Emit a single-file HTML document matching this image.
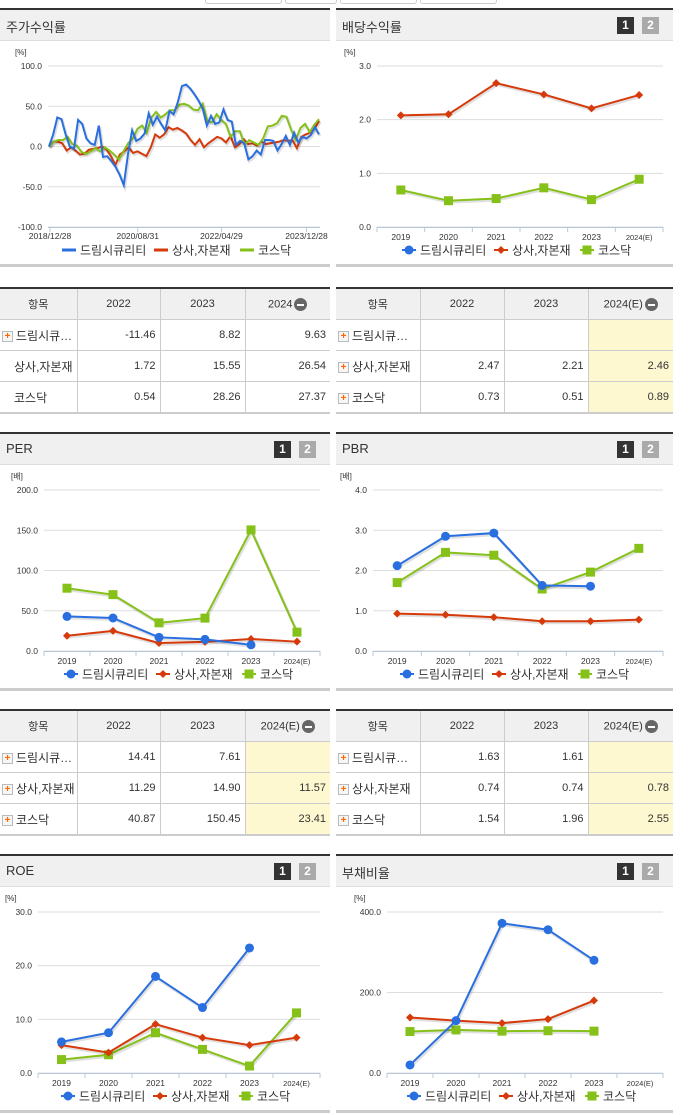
<!DOCTYPE html>
<html><head><meta charset="utf-8">
<style>
body{margin:0;width:691px;height:1115px;background:#fff;position:relative;overflow:hidden;font-family:"Liberation Sans","Noto Sans CJK KR",sans-serif;}
.abs{position:absolute}
.panel{position:absolute;border-top:2px solid #333;}
.hdr{position:absolute;left:0;right:0;top:0;height:30px;background:#f0f0f0;border-bottom:1px solid #ddd;}
.hdr span{position:absolute;left:6px;top:7px;font-size:13px;color:#333;}
.b1,.b2{position:absolute;top:7px;width:17px;height:17px;color:#fff;font-size:12px;font-weight:bold;text-align:center;line-height:17px;}
.b1{background:#333}.b2{background:#aaa}
.foot{position:absolute;left:0;right:0;height:3px;background:#ccc}
table{position:absolute;border-collapse:collapse;font-size:11px;color:#333;border-top:2px solid #333;border-bottom:2px solid #ccc;table-layout:fixed}
td,th{border:1px solid #ccc;height:30px;padding:0 4px;}
th{background:#f0f0f0;font-weight:normal;font-size:11px}
td{text-align:right}
td.n{text-align:left;font-size:12px;padding-left:2px;white-space:nowrap;overflow:hidden}
td.y{background:#fdf8d0}
tr td:first-child,tr th:first-child{border-left:none}
tr td:last-child,tr th:last-child{border-right:none}
.pl{display:inline-block;width:9px;height:9px;border:1px solid #bbb;background:#f6f6f6;color:#f60;font-size:10px;line-height:9px;text-align:center;font-weight:bold;margin-right:3px;vertical-align:middle}
.mi{display:inline-block;width:13px;height:13px;border-radius:50%;background:#666;vertical-align:middle;position:relative;margin-left:2px}
.mi:after{content:"";position:absolute;left:3px;top:6px;width:7px;height:2px;background:#fff}
</style></head><body>
<div class="abs" style="left:205px;top:-6px;width:75px;height:8px;border:1px solid #ccc;border-radius:3px"></div>
<div class="abs" style="left:285px;top:-6px;width:50px;height:8px;border:1px solid #ccc;border-radius:3px"></div>
<div class="abs" style="left:340px;top:-6px;width:75px;height:8px;border:1px solid #ccc;border-radius:3px"></div>
<div class="abs" style="left:420px;top:-6px;width:75px;height:8px;border:1px solid #ccc;border-radius:3px"></div>

<div id="root"></div>

<table style="left:0;top:287px;width:330px">
<colgroup><col style="width:77px"><col style="width:83px"><col style="width:85px"><col style="width:85px"></colgroup>
<tr><th>항목</th><th>2022</th><th>2023</th><th>2024<span class="mi"></span></th></tr>
<tr><td class="n"><span class="pl">+</span>드림시큐…</td><td>-11.46</td><td>8.82</td><td>9.63</td></tr>
<tr><td class="n" style="padding-left:14px">상사,자본재</td><td>1.72</td><td>15.55</td><td>26.54</td></tr>
<tr><td class="n" style="padding-left:14px">코스닥</td><td>0.54</td><td>28.26</td><td>27.37</td></tr>
</table>
<table style="left:336px;top:287px;width:337px">
<colgroup><col style="width:84px"><col style="width:84px"><col style="width:84px"><col style="width:85px"></colgroup>
<tr><th>항목</th><th>2022</th><th>2023</th><th>2024(E)<span class="mi"></span></th></tr>
<tr><td class="n"><span class="pl">+</span>드림시큐…</td><td></td><td></td><td class="y"></td></tr>
<tr><td class="n"><span class="pl">+</span>상사,자본재</td><td>2.47</td><td>2.21</td><td class="y">2.46</td></tr>
<tr><td class="n"><span class="pl">+</span>코스닥</td><td>0.73</td><td>0.51</td><td class="y">0.89</td></tr>
</table>
<table style="left:0;top:709px;width:330px">
<colgroup><col style="width:77px"><col style="width:83px"><col style="width:85px"><col style="width:85px"></colgroup>
<tr><th>항목</th><th>2022</th><th>2023</th><th>2024(E)<span class="mi"></span></th></tr>
<tr><td class="n"><span class="pl">+</span>드림시큐…</td><td>14.41</td><td>7.61</td><td class="y"></td></tr>
<tr><td class="n"><span class="pl">+</span>상사,자본재</td><td>11.29</td><td>14.90</td><td class="y">11.57</td></tr>
<tr><td class="n"><span class="pl">+</span>코스닥</td><td>40.87</td><td>150.45</td><td class="y">23.41</td></tr>
</table>
<table style="left:336px;top:709px;width:337px">
<colgroup><col style="width:84px"><col style="width:84px"><col style="width:84px"><col style="width:85px"></colgroup>
<tr><th>항목</th><th>2022</th><th>2023</th><th>2024(E)<span class="mi"></span></th></tr>
<tr><td class="n"><span class="pl">+</span>드림시큐…</td><td>1.63</td><td>1.61</td><td class="y"></td></tr>
<tr><td class="n"><span class="pl">+</span>상사,자본재</td><td>0.74</td><td>0.74</td><td class="y">0.78</td></tr>
<tr><td class="n"><span class="pl">+</span>코스닥</td><td>1.54</td><td>1.96</td><td class="y">2.55</td></tr>
</table>

<script>
const years=["2019","2020","2021","2022","2023","2024(E)"];
const stockDates=["2018/12/28","2020/08/31","2022/04/29","2023/12/28"];
const stockDream=[0,15,36,34,15,0,-3,33,28,10,4,2,26,-13,-12,-18,-25,-35,-48,-10,20,7,10,16,41,27,37,28,20,44,40,55,75,77,72,65,57,47,26,38,28,30,46,33,31,2,7,4,-16,-12,-5,-10,8,8,7,-5,3,13,2,17,5,12,10,14,24,15];
const stockSangsa=[0,6,6,4,-5,-1,-5,-10,-9,-4,-3,-2,0,-4,-12,-23,-10,-6,-1,-8,-6,-9,-12,-1,15,11,15,24,21,23,20,16,8,2,9,-1,4,8,12,10,5,13,-1,3,9,3,4,1,6,3,4,5,6,8,7,8,-2,12,15,17,22,32];
const stockKosdaq=[0,6,8,8,12,3,1,-7,-9,-6,-2,-6,-1,-5,-10,-16,-6,4,10,22,26,17,36,43,36,40,45,45,52,53,51,46,45,53,32,30,40,33,28,12,19,19,2,8,5,2,10,25,26,29,38,37,21,8,23,28,18,27,34];
const divDream=[null,null,null,null,null,null];
const divSangsa=[2.08,2.1,2.68,2.47,2.21,2.46];
const divKosdaq=[0.69,0.49,0.53,0.73,0.51,0.89];
const perDream=[43,41,17,14.41,7.61,null];
const perSangsa=[19,25,10,11.29,14.9,11.57];
const perKosdaq=[78,70,35,40.87,150.45,23.41];
const pbrDream=[2.12,2.85,2.93,1.63,1.61,null];
const pbrSangsa=[0.93,0.9,0.84,0.74,0.74,0.78];
const pbrKosdaq=[1.7,2.45,2.38,1.54,1.96,2.55];
const roeDream=[5.8,7.5,18,12.2,23.3,null];
const roeSangsa=[5.2,3.8,9.1,6.6,5.2,6.6];
const roeKosdaq=[2.5,3.4,7.5,4.4,1.3,11.2];
const debtDream=[20,130,372,356,280,null];
const debtSangsa=[138,130,124,134,180,null];
const debtKosdaq=[103,107,104,105,104,null];

const C={b:"#2a6fe0",r:"#d63a0a",g:"#86c11a"};
const NS="http://www.w3.org/2000/svg";
const root=document.getElementById('root');
const Y_TOP=25,Y_BOT=186;
function el(tag,attrs,parent){const e=document.createElementNS(NS,tag);for(const k in attrs)e.setAttribute(k,attrs[k]);parent.appendChild(e);return e;}

function panel(name,title,x,top,w,btns){
  const p=document.createElement('div');p.className='panel';
  
  
  p.style.left=x+'px';p.style.top=top+'px';p.style.width=w+'px';p.style.height='256px';
  const h=document.createElement('div');h.className='hdr';
  
  
  h.innerHTML='<span>'+title+'</span>';
  if(btns){
    const b1=document.createElement('div');b1.className='b1';b1.textContent='1';b1.style.left=(w-56)+'px';
    
    
    const b2=document.createElement('div');b2.className='b2';b2.textContent='2';b2.style.left=(w-31)+'px';
    
    
    h.appendChild(b1);h.appendChild(b2);
  }
  p.appendChild(h);
  const f=document.createElement('div');f.className='foot';f.style.top='254px';
  
  
  p.appendChild(f);
  root.appendChild(p);
  const svg=el('svg',{width:w,height:224,style:'position:absolute;left:0;top:31px'},p);
  
  
  return svg;
}

function axes(svg,o){
  const ys=v=>o.yBot-(v-o.min)/(o.max-o.min)*(o.yBot-o.yTop);
  for(const t of o.ticks){
    const y=ys(t);
    const gl=el('line',{x1:o.x0,x2:o.x1,y1:y,y2:y,stroke:'#ddd','stroke-width':1},svg);
    
    
    const tl=el('text',{x:o.x0-6,y:y+3,'font-size':8.5,'text-anchor':'end',fill:'#333'},svg);
    tl.textContent=t.toFixed(1);
    
    
  }
  const u=el('text',{x:Math.max(4,o.x0-33),y:o.yTop-11,'font-size':8,fill:'#333'},svg);
  u.textContent=o.unit;
  
  
  const ax=el('line',{x1:o.x0,x2:o.x1,y1:o.yBot+0.5,y2:o.yBot+0.5,stroke:'#b8c8dc','stroke-width':1},svg);
  
  
  return ys;
}

function legend(svg,cx,y,markers){
  const items=[["드림시큐리티",C.b,'c'],["상사,자본재",C.r,'d'],["코스닥",C.g,'s']];
  const g=el('g',{},svg);
  
  
  let x=cx-118;
  const widths=[92,86,60];
  items.forEach((it,i)=>{
    const e=el('g',{},g);
    
    
    el('line',{x1:x,x2:x+14,y1:y,y2:y,stroke:it[1],'stroke-width':markers?2:3},e);
    if(markers)marker(e,x+7,y,it[2],it[1]);
    const t=el('text',{x:x+18,y:y+4.5,'font-size':12,fill:'#333'},e);t.textContent=it[0];
    x+=widths[i];
  });
}
function marker(g,x,y,type,col){
  let m;
  if(type==='c')m=el('circle',{cx:x,cy:y,r:4.5,fill:col},g);
  else if(type==='d')m=el('path',{d:`M${x} ${y-4}L${x+4} ${y}L${x} ${y+4}L${x-4} ${y}Z`,fill:col},g);
  else m=el('rect',{x:x-4.5,y:y-4.5,width:9,height:9,fill:col},g);
  return m;
}
function series(svg,vals,xs,ys,col,type,name){
  let d='',pen=false;
  vals.forEach((v,i)=>{if(v==null){pen=false;return;}d+=(pen?'L':'M')+xs(i)+' '+ys(v);pen=true;});
  el('path',{d,fill:'none',stroke:'#000','stroke-opacity':0.12,'stroke-width':3,transform:'translate(1,1.5)'},svg);
  const p=el('path',{d,fill:'none',stroke:col,'stroke-width':2},svg);
  
  
  if(type){vals.forEach((v,i)=>{if(v==null)return;const m=marker(svg,xs(i),ys(v),type,col);
    
    });}
}
function catChart(name,title,x,top,w,x0,x1,max,ticks,unit,A,B,Cc){
  const svg=panel(name,title,x,top,w,true);
  const o={x0:x0-x,x1:x1-x,yTop:Y_TOP,yBot:Y_BOT,max,min:0,ticks,unit};
  const ys=axes(svg,o);
  const bw=(o.x1-o.x0)/6;
  const xs=i=>o.x0+bw*(i+0.5);
  for(let i=0;i<=6;i++){const tk=el('line',{x1:o.x0+bw*i,x2:o.x0+bw*i,y1:o.yBot,y2:o.yBot+5,stroke:'#b8c8dc'},svg);
    
    }
  years.forEach((yv,i)=>{const t=el('text',{x:xs(i),y:o.yBot+13,'font-size':i===5?7.5:8.5,'text-anchor':'middle',fill:'#333'},svg);t.textContent=yv;
    
    });
  series(svg,Cc,xs,ys,C.g,'s','kosdaq');
  series(svg,B,xs,ys,C.r,'d','sangsa');
  series(svg,A,xs,ys,C.b,'c','dream');
  legend(svg,(o.x0+o.x1)/2,209,true);
}

(function(){
  const svg=panel('stock-return-panel','주가수익률',0,8,330,false);
  const o={x0:48,x1:320,yTop:Y_TOP,yBot:Y_BOT,max:100,min:-100,ticks:[100,50,0,-50,-100],unit:'[%]'};
  const ys=axes(svg,o);
  const xd=i=>o.x0+2+(o.x1-o.x0-2)*i;
  const dpos=[0,0.325,0.635,0.95];
  stockDates.forEach((d,i)=>{const xx=xd(dpos[i]);
    const tk=el('line',{x1:xx,x2:xx,y1:o.yBot,y2:o.yBot+5,stroke:'#b8c8dc'},svg);
    
    
    const t=el('text',{x:xx,y:o.yBot+12,'font-size':8.5,'text-anchor':'middle',fill:'#333'},svg);t.textContent=d;
    
    });
  [[stockSangsa,C.r,'sangsa'],[stockKosdaq,C.g,'kosdaq'],[stockDream,C.b,'dream']].forEach(s=>{
    const n=s[0].length;const xs=i=>o.x0+1+(o.x1-o.x0-2)*i/(n-1);
    series(svg,s[0],xs,ys,s[1],null,s[2]);
  });
  legend(svg,180,209,false);
})();
catChart('dividend-panel','배당수익률',336,8,337,377,663,3,[3,2,1,0],'[%]',divDream,divSangsa,divKosdaq);
catChart('per-panel','PER',0,432,330,44,320,200,[200,150,100,50,0],'[배]',perDream,perSangsa,perKosdaq);
catChart('pbr-panel','PBR',336,432,337,373,663,4,[4,3,2,1,0],'[배]',pbrDream,pbrSangsa,pbrKosdaq);
catChart('roe-panel','ROE',0,854,330,38,320,30,[30,20,10,0],'[%]',roeDream,roeSangsa,roeKosdaq);
catChart('debt-ratio-panel','부채비율',336,854,337,387,663,400,[400,200,0],'[%]',debtDream,debtSangsa,debtKosdaq);
</script>
</body></html>
